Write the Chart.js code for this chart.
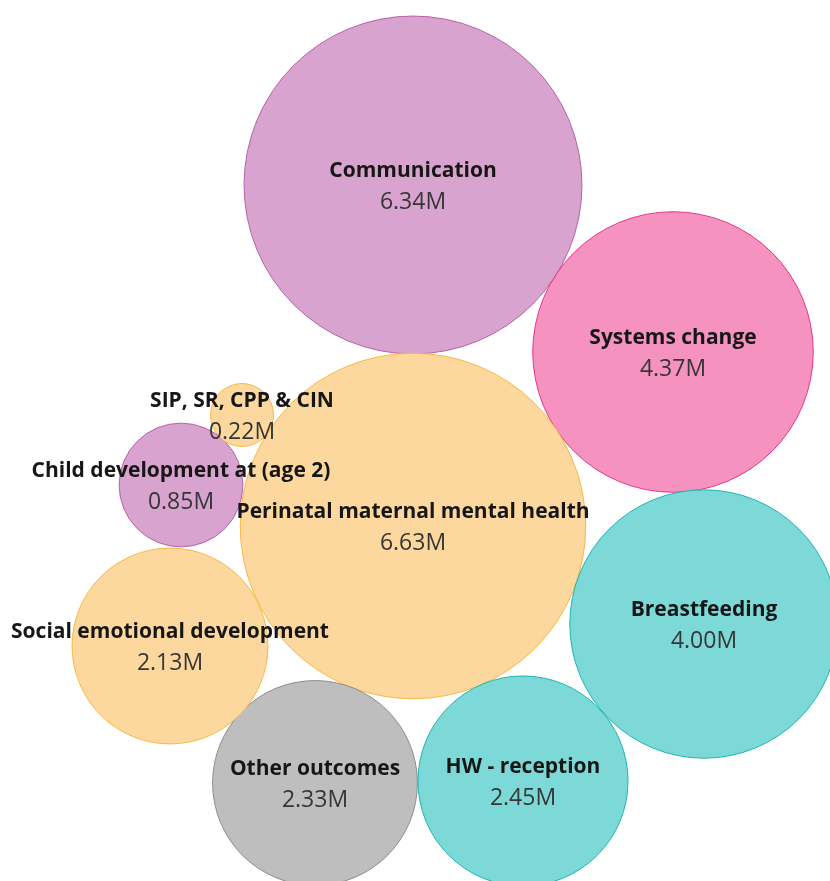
<!DOCTYPE html>
<html>
<head>
<meta charset="utf-8">
<script src="https://cdn.jsdelivr.net/npm/chart.js@4"></script>
<style>
  html, body { margin: 0; padding: 0; background: #fff; }
  #wrap { width: 830px; height: 881px; }
</style>
</head>
<body>
<div id="wrap"><canvas id="bubbles" width="830" height="881"></canvas></div>
<script>
// outcome areas and their totals (millions)
const outcomes = ['Communication', 'Systems change', 'Perinatal maternal mental health', 'Breastfeeding',
  'HW - reception', 'Other outcomes', 'Social emotional development', 'Child development at (age 2)', 'SIP, SR, CPP & CIN'];
const totals = [6.34, 4.37, 6.63, 4.00, 2.45, 2.33, 2.13, 0.85, 0.22];
// packed layout centres
const centreX = [413, 673, 413, 704, 523, 315, 170, 181, 242];
const centreY = [185, 352, 526, 624, 781, 783, 646, 485, 415];
const groups = ['purple', 'pink', 'orange', 'teal', 'teal', 'grey', 'orange', 'purple', 'orange'];

const fills = { purple: '#d8a3ce', pink: '#f592c0', orange: '#fcd89f', teal: '#7cd9d8', grey: '#bebebe' };
const edges = { purple: '#b662a9', pink: '#e8348b', orange: '#f8b845', teal: '#1cb4b2', grey: '#8d8d8d' };

// bubble area proportional to value
const radiusFor = v => 67.1 * Math.sqrt(v);

const points = outcomes.map((name, i) => ({ x: centreX[i], y: centreY[i], r: radiusFor(totals[i]) }));

const bubbleLabels = {
  id: 'bubbleLabels',
  afterDatasetsDraw(chart) {
    const ctx = chart.ctx;
    const meta = chart.getDatasetMeta(0);
    ctx.save();
    ctx.textAlign = 'center';
    ctx.textBaseline = 'middle';
    meta.data.forEach((el, i) => {
      ctx.fillStyle = '#161616';
      ctx.font = 'bold 21px "Open Sans", sans-serif';
      ctx.fillText(outcomes[i], el.x, el.y - 14);
      ctx.fillStyle = '#363636';
      ctx.font = '23px "Open Sans", sans-serif';
      ctx.fillText(totals[i].toFixed(2) + 'M', el.x, el.y + 17);
    });
    ctx.restore();
  }
};

new Chart(document.getElementById('bubbles'), {
  type: 'bubble',
  data: {
    datasets: [{
      data: points,
      backgroundColor: groups.map(g => fills[g]),
      borderColor: groups.map(g => edges[g]),
      borderWidth: 1,
      hoverRadius: 0,
      clip: false
    }]
  },
  options: {
    responsive: false,
    animation: false,
    layout: { padding: 0, autoPadding: false },
    plugins: { legend: { display: false }, tooltip: { enabled: false } },
    scales: {
      x: { type: 'linear', min: 0, max: 830, display: false },
      y: { type: 'linear', min: 0, max: 881, reverse: true, display: false }
    }
  },
  plugins: [bubbleLabels]
});
</script>
</body>
</html>
